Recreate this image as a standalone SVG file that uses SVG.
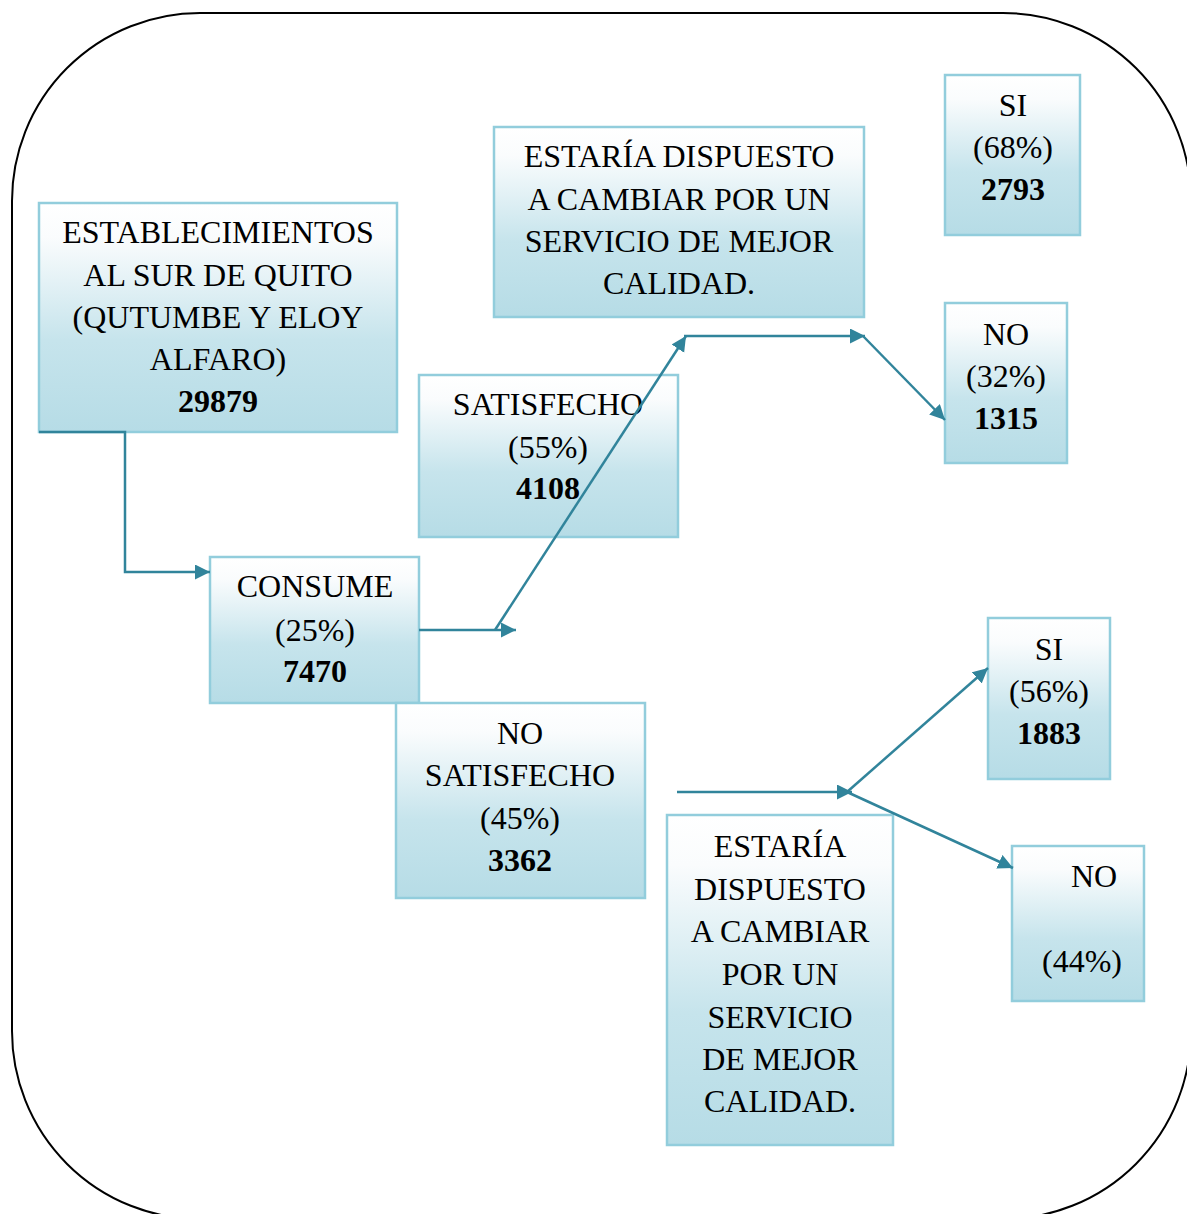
<svg xmlns="http://www.w3.org/2000/svg" width="1187" height="1214" viewBox="0 0 1187 1214">
  <defs>
    <linearGradient id="boxFill" x1="0" y1="0" x2="0" y2="1">
      <stop offset="0" stop-color="#ffffff"/>
      <stop offset="0.15" stop-color="#fafcfd"/>
      <stop offset="0.6" stop-color="#c6e4ec"/>
      <stop offset="1" stop-color="#b6dce6"/>
    </linearGradient>
    <marker id="arrow" markerUnits="userSpaceOnUse" markerWidth="16" markerHeight="16" refX="15" refY="7.5" orient="auto">
      <path d="M0,0 L15,7.5 L0,15 z" fill="#31849b"/>
    </marker>
    <style>
      .box { fill: url(#boxFill); stroke: #92cddc; stroke-width: 2.5; }
      .t { font-family: "Liberation Serif", "Times New Roman", serif; font-size: 32px; fill: #000; text-anchor: middle; }
      .b { font-weight: bold; }
      .con { fill: none; stroke: #31849b; stroke-width: 2.5; }
      .frame { fill: none; stroke: #000; stroke-width: 2; }
    </style>
  </defs>

  <rect width="1187" height="1214" fill="#ffffff"/>
  <!-- outer rounded frame -->
  <rect class="frame" x="12" y="13" width="1179" height="1206" rx="188" ry="188"/>

  <g id="node-establecimientos">
    <rect class="box" x="39" y="203" width="358" height="229"/>
    <text class="t" x="218" y="243">ESTABLECIMIENTOS</text>
    <text class="t" x="218" y="286">AL SUR DE QUITO</text>
    <text class="t" x="218" y="328">(QUTUMBE Y ELOY</text>
    <text class="t" x="218" y="370">ALFARO)</text>
    <text class="t b" x="218" y="412">29879</text>
  </g>

  <g id="node-satisfecho">
    <rect class="box" x="419" y="375" width="259" height="162"/>
    <text class="t" x="548" y="415">SATISFECHO</text>
    <text class="t" x="548" y="458">(55%)</text>
    <text class="t b" x="548" y="499">4108</text>
  </g>

  <g id="node-consume">
    <rect class="box" x="210" y="557" width="209" height="146"/>
    <text class="t" x="315" y="597">CONSUME</text>
    <text class="t" x="315" y="641">(25%)</text>
    <text class="t b" x="315" y="682">7470</text>
  </g>

  <g id="node-no-satisfecho">
    <rect class="box" x="396" y="703" width="249" height="195"/>
    <text class="t" x="520" y="744">NO</text>
    <text class="t" x="520" y="786">SATISFECHO</text>
    <text class="t" x="520" y="829">(45%)</text>
    <text class="t b" x="520" y="871">3362</text>
  </g>

  <g id="node-cambiar-1">
    <rect class="box" x="494" y="127" width="370" height="190"/>
    <text class="t" x="679" y="167">ESTARÍA DISPUESTO</text>
    <text class="t" x="679" y="210">A CAMBIAR POR UN</text>
    <text class="t" x="679" y="252">SERVICIO DE MEJOR</text>
    <text class="t" x="679" y="294">CALIDAD.</text>
  </g>

  <g id="node-si-68">
    <rect class="box" x="945" y="75" width="135" height="160"/>
    <text class="t" x="1013" y="116">SI</text>
    <text class="t" x="1013" y="158">(68%)</text>
    <text class="t b" x="1013" y="200">2793</text>
  </g>

  <g id="node-no-32">
    <rect class="box" x="945" y="303" width="122" height="160"/>
    <text class="t" x="1006" y="345">NO</text>
    <text class="t" x="1006" y="387">(32%)</text>
    <text class="t b" x="1006" y="429">1315</text>
  </g>

  <g id="node-si-56">
    <rect class="box" x="988" y="618" width="122" height="161"/>
    <text class="t" x="1049" y="660">SI</text>
    <text class="t" x="1049" y="702">(56%)</text>
    <text class="t b" x="1049" y="744">1883</text>
  </g>

  <g id="node-cambiar-2">
    <rect class="box" x="667" y="815" width="226" height="330"/>
    <text class="t" x="780" y="857">ESTARÍA</text>
    <text class="t" x="780" y="900">DISPUESTO</text>
    <text class="t" x="780" y="942">A CAMBIAR</text>
    <text class="t" x="780" y="985">POR UN</text>
    <text class="t" x="780" y="1028">SERVICIO</text>
    <text class="t" x="780" y="1070">DE MEJOR</text>
    <text class="t" x="780" y="1112">CALIDAD.</text>
  </g>

  <g id="node-no-44">
    <rect class="box" x="1012" y="846" width="132" height="155"/>
    <text class="t" x="1094" y="887">NO</text>
    <text class="t" x="1082" y="972">(44%)</text>
  </g>

  <g id="connectors">
    <path class="con" d="M39,432 H125 V572 H210" marker-end="url(#arrow)"/>
    <path class="con" d="M419,630 H516" marker-end="url(#arrow)"/>
    <path class="con" d="M495,630 L686,336" marker-end="url(#arrow)"/>
    <path class="con" d="M684,336 H865" marker-end="url(#arrow)"/>
    <path class="con" d="M863,336 L945,420" marker-end="url(#arrow)"/>
    <path class="con" d="M677,792 H852" marker-end="url(#arrow)"/>
    <path class="con" d="M847,792 L988,668" marker-end="url(#arrow)"/>
    <path class="con" d="M847,792 L1013,868" marker-end="url(#arrow)"/>
  </g>
</svg>
